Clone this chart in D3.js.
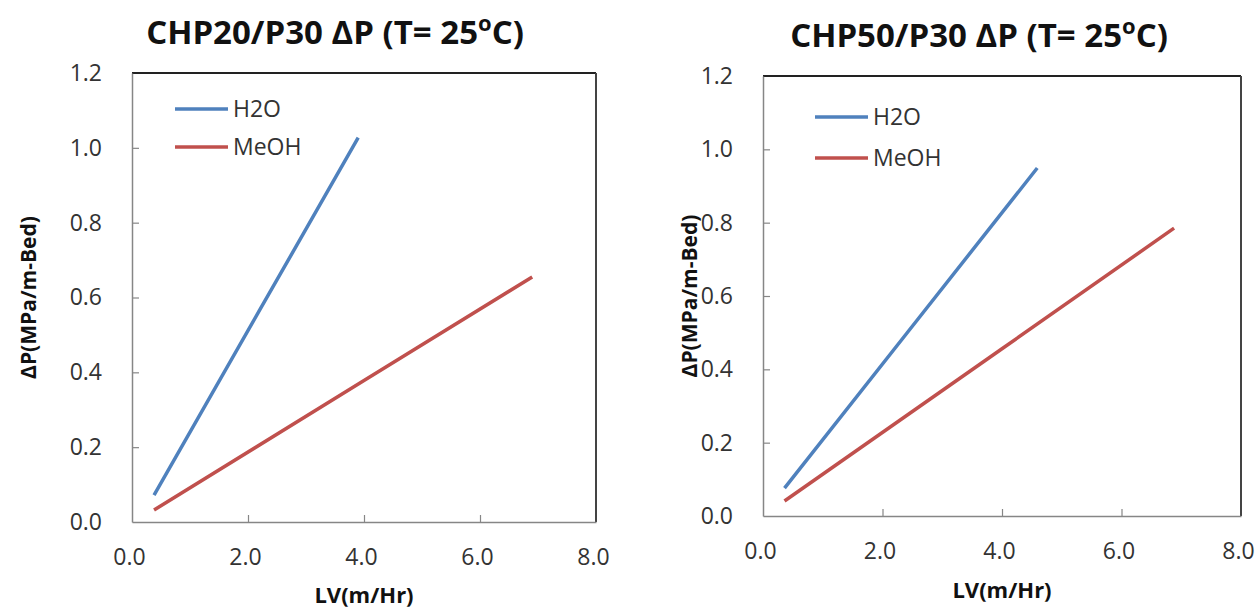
<!DOCTYPE html>
<html>
<head>
<meta charset="utf-8">
<script src="https://cdn.jsdelivr.net/npm/d3@7"></script>
<style>
  body { margin: 0; background: #fff; }
  svg { display: block; }
</style>
</head>
<body>
<div id="view"><svg width="1259" height="609"></svg></div>
<script>
// values
var seriesNames = ["H2O", "MeOH"];
var xTicks = [0, 2, 4, 6, 8];
var yTicks = [0, 0.2, 0.4, 0.6, 0.8, 1.0, 1.2];

var chp20Titles = ["CHP20/P30 ΔP (T= 25", "C)"];
var chp20LV_H2O = [0.38, 2.2, 3.9];
var chp20DP_H2O = [0.072, 0.566, 1.027];
var chp20LV_MeOH = [0.38, 4.0, 6.9];
var chp20DP_MeOH = [0.032, 0.378, 0.655];

var chp50Titles = ["CHP50/P30 ΔP (T= 25", "C)"];
var chp50LV_H2O = [0.36, 2.4, 4.59];
var chp50DP_H2O = [0.076, 0.497, 0.949];
var chp50LV_MeOH = [0.36, 4.0, 6.88];
var chp50DP_MeOH = [0.041, 0.456, 0.785];

var colors = ["#4F81BD", "#C0504D"];

var svg = d3.select("#view > svg");

function zip(xs, ys) {
    return xs.map(function(x, i) { return {x: x, y: ys[i]}; });
}

function drawChart(cfg) {
    var g = svg.append("g");

    var x = d3.scaleLinear().domain([0, 8]).range([cfg.left, cfg.right]);
    var y = d3.scaleLinear().domain([0, 1.2]).range([cfg.bottom, cfg.top]);

    // plot frame (top/right darker like the original)
    g.append("line")
        .attr("x1", cfg.left).attr("x2", cfg.right)
        .attr("y1", cfg.top).attr("y2", cfg.top)
        .style("stroke", "#222").style("stroke-width", 2);
    g.append("line")
        .attr("x1", cfg.right).attr("x2", cfg.right)
        .attr("y1", cfg.top).attr("y2", cfg.bottom)
        .style("stroke", "#444").style("stroke-width", 2);

    var xAxis = d3.axisBottom(x)
        .tickValues(xTicks)
        .tickSize(-7)
        .tickSizeOuter(0)
        .tickPadding(27)
        .tickFormat(d3.format(".1f"));
    var yAxis = d3.axisLeft(y)
        .tickValues(yTicks)
        .tickSize(-7)
        .tickSizeOuter(0)
        .tickPadding(30)
        .tickFormat(d3.format(".1f"));

    var gx = g.append("g")
        .attr("transform", "translate(0," + cfg.bottom + ")")
        .call(xAxis);
    var gy = g.append("g")
        .attr("transform", "translate(" + cfg.left + ",0)")
        .call(yAxis);

    [gx, gy].forEach(function(a) {
        a.select(".domain").style("stroke", "#868686").style("stroke-width", 1.5);
        a.selectAll(".tick line").style("stroke", "#868686").style("stroke-width", 1.2);
        a.selectAll(".tick text")
            .style("font-family", "'Open Sans', sans-serif")
            .style("font-size", "23px")
            .style("fill", "#333");
    });
    gx.selectAll(".tick text").attr("dx", -3);
    gy.selectAll(".tick line").filter(function(d) { return d === 0 || d === 1.2; }).remove();
    gx.selectAll(".tick line").filter(function(d) { return d === 0 || d === 8; }).remove();

    var line = d3.line()
        .x(function(d) { return x(d.x); })
        .y(function(d) { return y(d.y); });

    g.selectAll("path.series")
        .data(cfg.series)
        .enter()
        .append("path")
        .attr("class", "series")
        .attr("d", function(d) { return line(d); })
        .style("fill", "none")
        .style("stroke", function(d, i) { return colors[i]; })
        .style("stroke-width", 3.5);

    // legend
    var leg = g.append("g")
        .attr("transform", "translate(" + cfg.legX + "," + cfg.legY + ")");
    var item = leg.selectAll("g")
        .data(seriesNames)
        .enter()
        .append("g")
        .attr("transform", function(d, i) { return "translate(0," + (i * cfg.legGap) + ")"; });
    item.append("line")
        .attr("x1", 0).attr("x2", 53)
        .style("stroke", function(d, i) { return colors[i]; })
        .style("stroke-width", 3.5);
    item.append("text")
        .attr("x", 58)
        .attr("dy", "0.36em")
        .text(function(d) { return d; })
        .style("font-family", "'Open Sans', sans-serif")
        .style("font-size", "23px")
        .style("fill", "#333");

    // title
    var t = g.append("text")
        .attr("x", cfg.titleX)
        .attr("y", cfg.titleY)
        .attr("text-anchor", "middle")
        .style("font-family", "'Open Sans', sans-serif")
        .style("font-weight", "bold")
        .style("font-size", "33px")
        .style("fill", "#111");
    t.append("tspan").text(cfg.title[0]);
    t.append("tspan").text("o").attr("dy", -13).style("font-size", "22px");
    t.append("tspan").text(cfg.title[1]).attr("dy", 13);

    // axis titles
    g.append("text")
        .attr("x", (cfg.left + cfg.right) / 2)
        .attr("y", cfg.xLabelY)
        .attr("text-anchor", "middle")
        .text("LV(m/Hr)")
        .style("font-family", "'Open Sans', sans-serif")
        .style("font-weight", "bold")
        .style("font-size", "22px")
        .style("fill", "#111");

    g.append("text")
        .attr("transform", "translate(" + cfg.yLabelX + "," + ((cfg.top + cfg.bottom) / 2) + ") rotate(-90)")
        .attr("text-anchor", "middle")
        .text("ΔP(MPa/m-Bed)")
        .style("font-family", "'Open Sans', sans-serif")
        .style("font-weight", "bold")
        .style("font-size", "21px")
        .style("fill", "#111");
}

drawChart({
    left: 132, right: 596, top: 73, bottom: 522,
    title: chp20Titles, titleX: 335, titleY: 44,
    xLabelY: 603, yLabelX: 36,
    legX: 175, legY: 109, legGap: 38,
    series: [zip(chp20LV_H2O, chp20DP_H2O), zip(chp20LV_MeOH, chp20DP_MeOH)]
});

drawChart({
    left: 763, right: 1241, top: 76, bottom: 516,
    title: chp50Titles, titleX: 979, titleY: 47,
    xLabelY: 598, yLabelX: 697,
    legX: 815, legY: 117, legGap: 41,
    series: [zip(chp50LV_H2O, chp50DP_H2O), zip(chp50LV_MeOH, chp50DP_MeOH)]
});
</script>
</body>
</html>
